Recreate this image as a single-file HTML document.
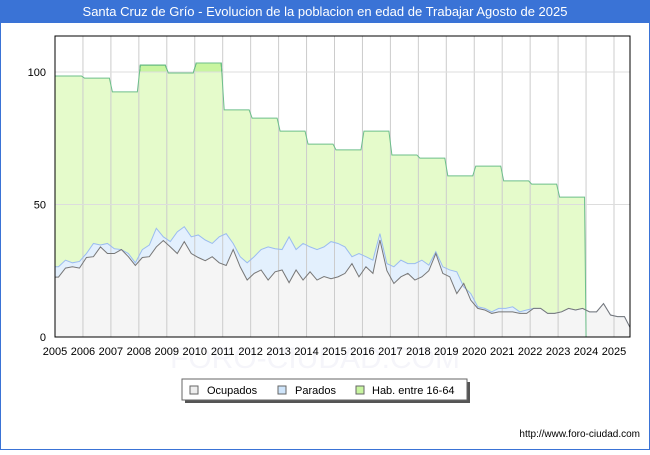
<!DOCTYPE html>
<html><head><meta charset="utf-8"><style>
body{margin:0;width:650px;height:450px;overflow:hidden;background:#fff;font-family:"Liberation Sans",sans-serif}
</style></head><body>
<svg width="650" height="450" xmlns="http://www.w3.org/2000/svg" font-family="Liberation Sans, sans-serif">
<rect x="0.5" y="0.5" width="649" height="449" fill="#fff" stroke="#3a73d6"/>
<rect x="0" y="0" width="650" height="23" fill="#3a73d6"/>
<text x="325" y="16" text-anchor="middle" fill="#fff" font-size="13">Santa Cruz de Grío - Evolucion de la poblacion en edad de Trabajar Agosto de 2025</text>
<text x="315" y="368" text-anchor="middle" fill="#f5f5fa" font-size="30">FORO-CIUDAD.COM</text>
<g id="plot"></g>
<g>
<rect x="185" y="382" width="285" height="21" fill="#555"/>
<rect x="182" y="379" width="285" height="21" fill="#fff" stroke="#666"/>
<rect x="190" y="386" width="8" height="8" fill="#eee" stroke="#666"/>
<text x="207" y="394" font-size="11">Ocupados</text>
<rect x="278" y="386" width="8" height="8" fill="#cfe5fb" stroke="#666"/>
<text x="295" y="394" font-size="11">Parados</text>
<rect x="356" y="386" width="8" height="8" fill="#c8f5a0" stroke="#666"/>
<text x="372" y="394" font-size="11">Hab. entre 16-64</text>
</g>
<text x="640" y="437" text-anchor="end" font-size="10">http://www.foro-ciudad.com</text>
</svg>
<script>
const years=[2005,2006,2007,2008,2009,2010,2011,2012,2013,2014,2015,2016,2017,2018,2019,2020,2021,2022,2023];
const hab=[98.5,97.7,92.5,102.6,99.6,103.4,85.7,82.6,77.7,72.8,70.6,77.7,68.7,67.5,60.8,64.5,58.9,57.7,52.8];
const ocupados=[22.6,26,26.5,26, 30,30.3,34,31.5, 31.5,33,30.3,27, 30,30.3,34,36.4, 34,31.5,36,31.5, 30,28.8,30.3,28, 27,33,26.5,21.5, 24,25.3,21.5,24.6, 25.3,20.5,25.3,21.5, 24.6,21.5,22.8,22, 22.7,24,27.7,22.7, 26.5,24,36.6,25, 20.2,22.7,24,21.5, 22.7,25,31.5,24, 22.7,16.4,20.2,13.9, 10.8,10.2,8.9,9.5, 9.5,9.5,8.9,8.9, 10.8,10.8,8.9,8.9, 9.5,10.8,10.2,10.8, 9.5,9.5,12.6,8.3, 7.7,7.7,3.6];
const totalActivos=[26.5,29,28,28.5, 31.5,35.3,34.7,35.3, 33.3,33,31.5,28, 33,34.7,41,37.8, 36,39.7,41.6,37.8, 38.5,36.6,35.3,37.8, 39,35.3,30.3,28, 30.3,33,34,33.3, 33,37.8,33,35.3, 34,33,34,36, 35.3,34,30.3,31.5, 30.3,29,39,27.7, 26.5,29,27.7,27.7, 29,27.1,32.2,26.5, 25.3,24.6,18.9,16.4, 11.4,10.8,9.5,10.8, 10.8,11.4,9.5,10.2, 10.8,10.8,8.9,8.9, 9.5,10.8,10.2,10.8, 9.5,9.5,12.6,8.3, 7.7,7.7,3.6];
const yTicks=[0,50,100];
const X0=55,X1=630,Y0=337,YT=36;
const x=t=>X0+(t-2005)*27.95, y=v=>Y0-v*2.65;
const ns='http://www.w3.org/2000/svg', g=document.getElementById('plot');
function mk(tag,at,parent){const e=document.createElementNS(ns,tag);for(const k in at)e.setAttribute(k,at[k]);(parent||g).appendChild(e);return e;}
// hab steps
let hp=[];years.forEach((yr,i)=>{hp.push([x(yr)+(i?1.5:0),y(hab[i])],[x(yr+1)-1.5,y(hab[i])]);});
const last=x(years[years.length-1]+1);
hp.push([last,Y0]);
const habStr=hp.map(p=>p.join(',')).join(' ');
const ha=mk('polygon',{points:X0+','+Y0+' '+habStr,fill:'#e5fbcb',stroke:'none'});


mk('clipPath',{id:'c100'});const cp=g.lastChild;mk('rect',{x:X0,y:YT,width:X1-X0,height:y(100)-YT},cp);
const ha2=mk('polygon',{points:X0+','+Y0+' '+habStr,fill:'#c8f5a0',stroke:'#1a8a3a','clip-path':'url(#c100)'});


// series
const tt=i=>2005+i*0.25+0.125;
function pts(arr){const p=[[X0,y(arr[0])]];arr.forEach((v,i)=>p.push([Math.min(x(tt(i)),X1),y(v)]));p.push([X1,y(arr[arr.length-1])]);return p;}
const pa=pts(totalActivos),po=pts(ocupados);
const s=p=>p.map(q=>q.join(',')).join(' ');
const a1=mk('polygon',{points:X0+','+Y0+' '+s(pa)+' '+X1+','+Y0,fill:'#e3f0fd'});


const a2=mk('polygon',{points:X0+','+Y0+' '+s(po)+' '+X1+','+Y0,fill:'#f5f5f5'});


// grid on top of fills
for(let yr=2005;yr<=2025;yr++){const l=mk('line',{x1:x(yr),x2:x(yr),y1:YT,y2:Y0,stroke:'#ccc'});


const t=mk('text',{x:x(yr),y:355,'text-anchor':'middle','font-size':11});t.textContent=yr;

}
yTicks.forEach(v=>{const l=mk('line',{x1:X0,x2:X1,y1:y(v),y2:y(v),stroke:'#ddd'});


const t=mk('text',{x:46,y:y(v)+4,'text-anchor':'end','font-size':11});t.textContent=v;

});
const hl=mk('polyline',{points:hp.slice(0,-1).map(p=>p.join(',')).join(' ')+' '+hp[hp.length-1].join(','),fill:'none',stroke:'#6cbf8a'});


const l1=mk('polyline',{points:s(pa),fill:'none',stroke:'#9bbcf0'});


const l2=mk('polyline',{points:s(po),fill:'none',stroke:'#777'});


const b=mk('rect',{x:X0,y:YT,width:X1-X0,height:Y0-YT,fill:'none',stroke:'#000'});


</script>
</body></html>
